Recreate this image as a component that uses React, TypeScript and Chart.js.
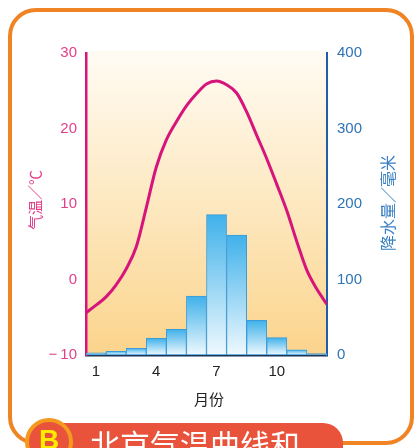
import React, { useEffect, useRef } from 'react';
import { Chart, registerables } from 'chart.js';

Chart.register(...registerables);

// ---- data ----
const months = [1, 2, 3, 4, 5, 6, 7, 8, 9, 10, 11, 12];
const shownMonthTicks = [1, 4, 7, 10];
const precipitation = [3, 5, 9, 22, 34, 78, 186, 159, 46, 23, 7, 2];
const tempMonths = [0.5, 1, 1.5, 2, 2.5, 3, 3.5, 4, 4.5, 5, 5.5, 6, 6.5, 7, 7.5, 8, 8.5, 9, 9.5, 10, 10.5, 11, 11.5, 12, 12.5];
const tempValues = [-4.4, -3.4, -2.3, -0.7, 1.4, 4.3, 9.5, 14.9, 18.5, 20.9, 23.0, 24.6, 25.9, 26.3, 25.8, 24.7, 22.2, 19.1, 16.0, 12.6, 9.1, 5.0, 1.2, -1.3, -3.3];
const monthRange = { min: 0.5, max: 12.5 };
const tempAxis = { min: -10, max: 30, step: 10 };
const precipAxis = { min: 0, max: 400, step: 100 };
const tempTitle = '气温／℃';
const precipTitle = '降水量／毫米';
const monthTitle = '月份';
const bannerText = '北京气温曲线和';
const badgeText = 'B';

const PINK = '#d6147b';
const PINK_TEXT = '#e2408c';
const BLUE = '#1f5fa8';
const BLUE_TEXT = '#2f74b5';
const NUM_FONT = '"Liberation Sans", Arial, sans-serif';
const CJK_FONT = '"Noto Sans CJK SC", sans-serif';

const decorPlugin = {
  id: 'decor',
  beforeDraw(chart: any) {
    const { ctx, chartArea } = chart;
    if (!chartArea) return;
    const g = ctx.createLinearGradient(0, chartArea.top, 0, chartArea.bottom);
    g.addColorStop(0, '#fffbf3');
    g.addColorStop(0.5, '#fde8c0');
    g.addColorStop(1, '#fbd48c');
    ctx.save();
    ctx.fillStyle = g;
    ctx.fillRect(chartArea.left, chartArea.top - 2, chartArea.right - chartArea.left, chartArea.bottom - chartArea.top + 2);
    ctx.restore();
  },
  afterDraw(chart: any) {
    const { ctx } = chart;
    ctx.save();
    ctx.textAlign = 'center';
    ctx.textBaseline = 'middle';
    ctx.save();
    ctx.translate(35, 200);
    ctx.rotate(-Math.PI / 2);
    ctx.fillStyle = PINK_TEXT;
    ctx.font = '15px ' + CJK_FONT;
    ctx.fillText(tempTitle, 0, 0);
    ctx.restore();
    ctx.save();
    ctx.translate(388, 203);
    ctx.rotate(-Math.PI / 2);
    ctx.fillStyle = '#3a80c2';
    ctx.font = '16px ' + CJK_FONT;
    ctx.fillText(precipTitle, 0, 0);
    ctx.restore();
    ctx.fillStyle = '#222';
    ctx.font = '15px ' + CJK_FONT;
    ctx.fillText(monthTitle, 209, 399);
    ctx.restore();
  },
};

export default function App() {
  const canvasRef = useRef<HTMLCanvasElement | null>(null);

  useEffect(() => {
    if (!canvasRef.current) return;
    const chart = new Chart(canvasRef.current, {
      type: 'bar',
      data: {
        datasets: [
          {
            type: 'line',
            data: tempMonths.map((m, i) => ({ x: m, y: tempValues[i] })),
            xAxisID: 'x',
            yAxisID: 'y',
            borderColor: PINK,
            borderWidth: 3,
            pointRadius: 0,
            fill: false,
            cubicInterpolationMode: 'monotone',
            order: 0,
          } as any,
          {
            type: 'bar',
            data: months.map((m, i) => ({ x: m, y: precipitation[i] })),
            xAxisID: 'x',
            yAxisID: 'y2',
            barPercentage: 1,
            categoryPercentage: 1,
            grouped: false,
            borderColor: '#3c9bd9',
            borderWidth: 1,
            borderSkipped: false,
            order: 1,
            backgroundColor: (c: any) => {
              const ch = c.chart;
              const ys = ch.scales && ch.scales.y2;
              const v = c.raw && typeof c.raw.y === 'number' ? c.raw.y : null;
              if (!ch.chartArea || !ys || v === null) return '#5bb8ec';
              const top = ys.getPixelForValue(v);
              const bottom = ys.getPixelForValue(0);
              if (bottom - top < 1) return '#5bb8ec';
              const g = ch.ctx.createLinearGradient(0, top, 0, bottom);
              g.addColorStop(0, '#3fb1ea');
              g.addColorStop(1, '#eff9fe');
              return g;
            },
          } as any,
        ],
      },
      options: {
        animation: false,
        responsive: true,
        maintainAspectRatio: false,
        events: [],
        layout: { padding: { top: 53, left: 0, right: 0, bottom: 0 } },
        plugins: {
          legend: { display: false },
          tooltip: { enabled: false },
        },
        scales: {
          x: {
            type: 'linear',
            offset: false,
            min: monthRange.min,
            max: monthRange.max,
            grid: { display: false, drawTicks: false },
            border: { display: true, color: '#1d3557', width: 2.5 },
            afterBuildTicks: (s: any) => {
              s.ticks = shownMonthTicks.map((v) => ({ value: v }));
            },
            ticks: {
              autoSkip: false,
              maxRotation: 0,
              color: '#222',
              padding: 8,
              font: { family: NUM_FONT, size: 15 },
            },
            afterFit: (s: any) => {
              s.height = 93;
            },
          },
          y: {
            type: 'linear',
            position: 'left',
            min: tempAxis.min,
            max: tempAxis.max,
            grid: { display: false, drawTicks: false },
            border: { display: true, color: PINK, width: 2.5 },
            ticks: {
              stepSize: tempAxis.step,
              color: PINK_TEXT,
              padding: 9,
              font: { family: NUM_FONT, size: 15 },
              callback: (v: any) => (v < 0 ? '−\u2009' + Math.abs(v) : String(v)),
            },
            afterFit: (s: any) => {
              s.width = 86;
            },
          },
          y2: {
            type: 'linear',
            position: 'right',
            min: precipAxis.min,
            max: precipAxis.max,
            grid: { display: false, drawTicks: false },
            border: { display: true, color: BLUE, width: 2 },
            ticks: {
              stepSize: precipAxis.step,
              color: BLUE_TEXT,
              padding: 10,
              font: { family: NUM_FONT, size: 15 },
            },
            afterFit: (s: any) => {
              s.width = 88;
            },
          },
        },
      } as any,
      plugins: [decorPlugin],
    });
    return () => chart.destroy();
  }, []);

  return (
    <div
      style={{
        position: 'absolute',
        left: 0,
        top: 0,
        width: 415,
        height: 448,
        overflow: 'hidden',
        background: '#fff',
      }}
    >
      <div
        style={{
          position: 'absolute',
          left: 8,
          top: 8,
          width: 406,
          height: 437,
          boxSizing: 'border-box',
          border: '4px solid #f08323',
          borderRadius: 28,
          background: '#fff',
        }}
      />
      <div style={{ position: 'absolute', left: 0, top: 0, width: 415, height: 448 }}>
        <canvas ref={canvasRef} />
      </div>
      <div
        style={{
          position: 'absolute',
          left: 48,
          top: 423,
          width: 295,
          height: 40,
          background: '#e9533b',
          borderTopRightRadius: 20,
        }}
      />
      <div
        style={{
          position: 'absolute',
          left: 25,
          top: 418,
          width: 48,
          height: 48,
          boxSizing: 'border-box',
          borderRadius: '50%',
          border: '4px solid #f39a1f',
          background: '#e9533b',
        }}
      />
      <div
        style={{
          position: 'absolute',
          left: 25,
          top: 426,
          width: 48,
          textAlign: 'center',
          color: '#ffeb00',
          fontFamily: NUM_FONT,
          fontWeight: 'bold',
          fontSize: 28,
          lineHeight: '28px',
        }}
      >
        {badgeText}
      </div>
      <div
        style={{
          position: 'absolute',
          left: 90,
          top: 428,
          color: '#fff',
          fontFamily: CJK_FONT,
          fontSize: 30,
          lineHeight: '30px',
          whiteSpace: 'nowrap',
        }}
      >
        {bannerText}
      </div>
    </div>
  );
}
